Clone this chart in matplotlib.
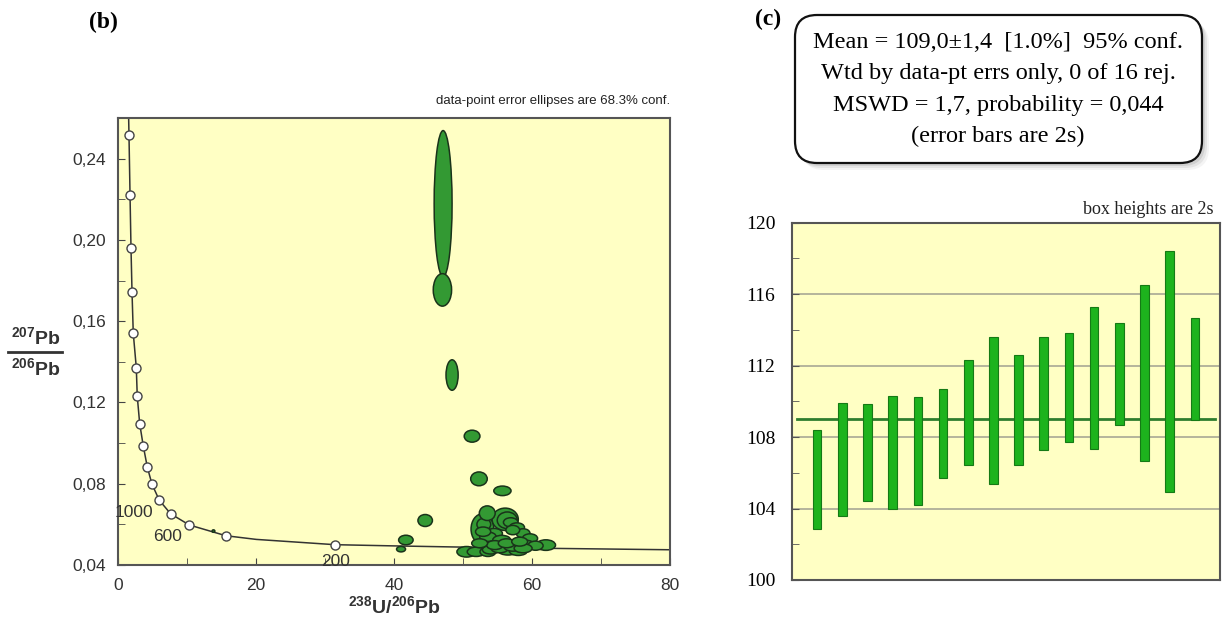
import matplotlib
matplotlib.use("Agg")
import matplotlib.pyplot as plt
from matplotlib.patches import Ellipse, FancyBboxPatch

plt.rcParams['mathtext.fontset'] = 'custom'
plt.rcParams['mathtext.rm'] = 'Liberation Sans'
plt.rcParams['mathtext.bf'] = 'Liberation Sans:bold'

SANS = 'Liberation Sans'
SERIF = 'Liberation Serif'

# ---- panel (b): Tera-Wasserburg diagram ----
# concordia line (read points along the drawn curve)
conc_x = [1.50, 1.55, 1.70, 1.84, 1.99, 2.17, 2.61, 2.75, 3.10, 3.62, 4.20, 4.88,
          5.94, 7.59, 10.29, 15.61, 20.0, 31.4, 40.0, 50.0, 60.0, 70.0, 80.0]
conc_y = [0.2600, 0.2515, 0.2222, 0.1961, 0.1742, 0.1541, 0.1371, 0.1230, 0.1096,
          0.0986, 0.0883, 0.0798, 0.0719, 0.0652, 0.0597, 0.0544, 0.0526, 0.0500,
          0.0494, 0.0488, 0.0483, 0.0479, 0.0475]
# age markers on the concordia
tick_x = [1.55, 1.70, 1.84, 1.99, 2.17, 2.61, 2.75, 3.10, 3.62, 4.20, 4.88,
          5.94, 7.59, 10.29, 15.61, 31.4]
tick_y = [0.2515, 0.2222, 0.1961, 0.1742, 0.1541, 0.1371, 0.1230, 0.1096,
          0.0986, 0.0883, 0.0798, 0.0719, 0.0652, 0.0597, 0.0544, 0.0500]
age_labels = ['1000', '600', '200']
age_lx = [2.2, 7.1, 31.5]
age_ly = [0.0660, 0.0539, 0.0416]

# error ellipses: centre x, centre y, full width, full height
ell_x = [47.1, 47.0, 48.4, 51.3, 52.3, 55.7, 44.5, 41.7, 41.0, 13.8,
         52.8, 53.0, 56.1, 56.4, 53.5, 56.9, 57.8, 58.7, 59.7, 54.5,
         53.6, 52.9, 57.2, 55.6, 62.0, 59.0, 60.5, 50.5, 51.9, 53.6,
         54.0, 56.5, 58.0, 55.3, 57.2, 58.7, 54.6, 56.3, 58.2, 52.4]
ell_y = [0.2178, 0.1754, 0.1335, 0.1034, 0.0824, 0.0765, 0.0619, 0.0523, 0.0478, 0.0567,
         0.0577, 0.0600, 0.0625, 0.0620, 0.0655, 0.0610, 0.0585, 0.0556, 0.0531, 0.0555,
         0.0539, 0.0564, 0.0572, 0.0523, 0.0498, 0.0500, 0.0495, 0.0465, 0.0465, 0.0465,
         0.0475, 0.0470, 0.0468, 0.0482, 0.0490, 0.0482, 0.0498, 0.0507, 0.0515, 0.0507]
ell_w = [2.6, 2.66, 1.76, 2.28, 2.4, 2.5, 2.1, 2.1, 1.3, 0.4,
         3.3, 2.0, 3.8, 2.9, 2.3, 2.1, 2.2, 2.0, 2.2, 2.4,
         2.4, 2.2, 2.0, 2.6, 2.8, 2.6, 2.2, 2.8, 2.6, 2.3,
         2.4, 2.8, 2.6, 2.5, 2.6, 2.6, 2.4, 2.4, 2.3, 2.3]
ell_h = [0.0720, 0.0160, 0.0150, 0.0059, 0.0068, 0.0047, 0.0059, 0.0047, 0.0027, 0.0012,
         0.0150, 0.0060, 0.0110, 0.0082, 0.0072, 0.0045, 0.0045, 0.0045, 0.0045, 0.0050,
         0.0046, 0.0046, 0.0046, 0.0046, 0.0052, 0.0045, 0.0045, 0.0052, 0.0046, 0.0046,
         0.0042, 0.0042, 0.0042, 0.0044, 0.0044, 0.0044, 0.0044, 0.0044, 0.0044, 0.0044]

b_yticks = [0.04, 0.08, 0.12, 0.16, 0.20, 0.24]
b_yticklabels = ['0,04', '0,08', '0,12', '0,16', '0,20', '0,24']
b_xticks = [0, 20, 40, 60, 80]

# ---- panel (c): weighted mean plot ----
age_lo = [102.84, 103.60, 104.44, 104.00, 104.20, 105.73, 106.44, 105.35,
          106.44, 107.28, 107.70, 107.35, 108.66, 106.66, 104.94, 108.96]
age_hi = [108.40, 109.90, 109.83, 110.30, 110.24, 110.70, 112.31, 113.62,
          112.61, 113.60, 113.84, 115.30, 114.38, 116.50, 118.40, 114.68]
mean_age = 109.0
c_yticks = [100, 104, 108, 112, 116, 120]

box_lines = ['Mean = 109,0\u00b11,4  [1.0%]  95% conf.',
             'Wtd by data-pt errs only, 0 of 16 rej.',
             'MSWD = 1,7, probability = 0,044',
             '(error bars are 2s)']

YELLOW = '#ffffc4'
FRAME = '#555555'

fig = plt.figure(figsize=(12.23, 6.22), dpi=100)

# ---------- (b) ----------
ax1 = fig.add_axes([118.3 / 1223, 1 - 565 / 622, (670 - 118.3) / 1223, (565 - 118) / 622])
ax1.set_facecolor(YELLOW)
ax1.set_xlim(0, 80)
ax1.set_ylim(0.04, 0.26)
ax1.plot(conc_x, conc_y, color='#333333', lw=1.1, zorder=2)
ax1.plot(tick_x, tick_y, 'o', ms=6.5, mfc='white', mec='#444444', mew=1.0, zorder=3)
for i in range(len(ell_x)):
    e = Ellipse((ell_x[i], ell_y[i]), ell_w[i], ell_h[i], facecolor='#339933',
                edgecolor='#1a331a', lw=1.1, zorder=4)
    ax1.add_patch(e)
for lab, lx, ly in zip(age_labels, age_lx, age_ly):
    ax1.text(lx, ly, lab, fontsize=12.5, family=SANS, color='#333333',
             ha='center', va='center', zorder=5)

ax1.set_xticks(b_xticks)
ax1.set_xticks([10, 30, 50, 70], minor=True)
ax1.set_yticks(b_yticks)
ax1.set_yticklabels(b_yticklabels)
ax1.set_yticks([0.06, 0.10, 0.14, 0.18, 0.22], minor=True)
ax1.tick_params(which='both', direction='in', length=5, color='#444444',
                top=False, right=False)
ax1.tick_params(labelsize=12.5, labelcolor='#333333', pad=9)
for lab in ax1.get_xticklabels() + ax1.get_yticklabels():
    lab.set_family(SANS)
for s in ax1.spines.values():
    s.set_color(FRAME)
    s.set_linewidth(1.5)

ax1.text(1.0, 1.025, 'data-point error ellipses are 68.3% conf.', transform=ax1.transAxes,
         ha='right', va='bottom', fontsize=9.5, family=SANS, color='#222222')

# ---------- (c) ----------
ax2 = fig.add_axes([792 / 1223, 1 - 580 / 622, (1220 - 792) / 1223, (580 - 222.7) / 622])
ax2.set_facecolor(YELLOW)
ax2.set_xlim(0, 17)
ax2.set_ylim(100, 120)
pos = list(range(1, len(age_lo) + 1))
for g in [104, 108, 112, 116]:
    ax2.axhline(g, color='#a0a090', lw=1.1, zorder=1)
ax2.plot([0.2, 16.8], [mean_age, mean_age], color='#2e7d2e', lw=2, zorder=2)
ax2.bar(pos, [h - l for h, l in zip(age_hi, age_lo)], bottom=age_lo, width=0.34,
        color='#1db31d', edgecolor='#157a15', lw=0.8, zorder=3)
ax2.set_xticks([])
ax2.set_yticks(c_yticks)
ax2.set_yticks([102, 106, 110, 114, 118], minor=True)
ax2.tick_params(which='both', direction='in', length=5, color='#555555')
ax2.tick_params(labelsize=14, pad=12)
for lab in ax2.get_yticklabels():
    lab.set_family(SERIF)
for s in ax2.spines.values():
    s.set_color(FRAME)
    s.set_linewidth(1.5)
ax2.text(0.985, 1.012, 'box heights are 2s', transform=ax2.transAxes, ha='right',
         va='bottom', fontsize=13, family=SERIF, color='#222222')

# ---------- annotations in pixel space ----------
ov = fig.add_axes([0, 0, 1, 1], zorder=-1)
ov.set_xlim(0, 1223)
ov.set_ylim(622, 0)
ov.axis('off')
ov.text(103, 22, '(b)', fontsize=17, fontweight='bold', family=SERIF, ha='center', va='center')
ov.text(768, 19, '(c)', fontsize=17, fontweight='bold', family=SERIF, ha='center', va='center')

# axis labels of (b)
ov.text(394, 606, r'$\mathbf{^{238}U/^{206}Pb}$', fontsize=14, color='#333333',
        ha='center', va='center')
ov.text(36, 337, r'$\mathbf{^{207}Pb}$', fontsize=14, color='#333333', ha='center', va='center')
ov.plot([8, 62], [352, 352], color='#333333', lw=2)
ov.text(36, 368, r'$\mathbf{^{206}Pb}$', fontsize=14, color='#333333', ha='center', va='center')

# rounded statistics box with a soft shadow
for k, a in [(7, 0.08), (5, 0.12), (3, 0.18)]:
    ov.add_patch(FancyBboxPatch((795 + k, 15 + k), 407, 148,
                                boxstyle='round,pad=0,rounding_size=22',
                                fc='#777777', ec='none', alpha=a))
ov.add_patch(FancyBboxPatch((795, 15), 407, 148, boxstyle='round,pad=0,rounding_size=22',
                            fc='white', ec='#111111', lw=1.6))
for i, line in enumerate(box_lines):
    ov.text(998, 43 + 31 * i, line, fontsize=17.5, family=SERIF, ha='center', va='center')

fig.savefig('out.png', dpi=100)
